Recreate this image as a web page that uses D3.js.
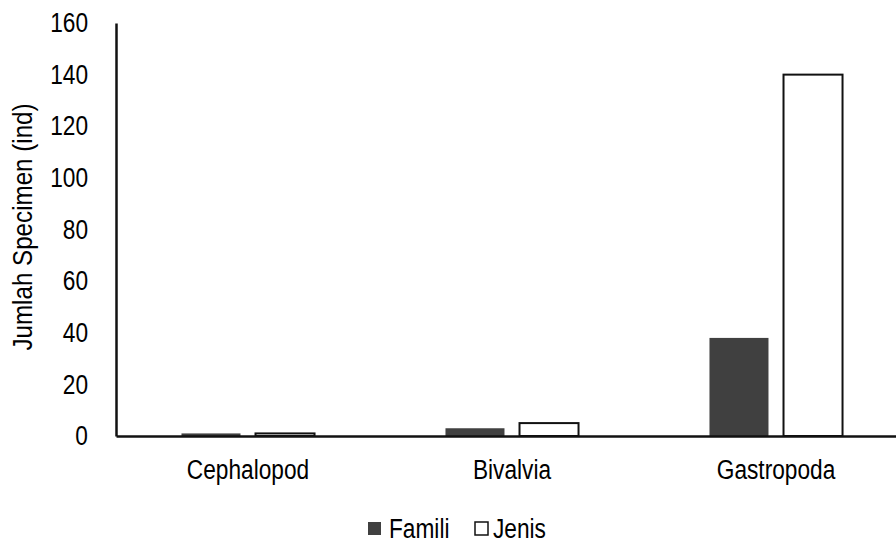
<!DOCTYPE html>
<html>
<head>
<meta charset="utf-8">
<script src="https://cdn.jsdelivr.net/npm/d3@7"></script>
<style>
  html, body { margin: 0; padding: 0; background: #fff; }
  text { font-family: "Liberation Sans Narrow", "Arial Narrow", "Liberation Sans", Arial, sans-serif; fill: #000; }
</style>
</head>
<body>
<svg id="chart" width="896" height="543"></svg>
<script>
// Specimen counts per mollusc class
const categories = ["Cephalopod", "Bivalvia", "Gastropoda"];
const seriesNames = ["Famili", "Jenis"];
const famili = [1, 3, 38];
const jenis = [1, 5, 140];
const yTicks = [0, 20, 40, 60, 80, 100, 120, 140, 160];

const fills = { Famili: "#404040", Jenis: "#ffffff" };
const strokes = { Famili: "none", Jenis: "#111" };

const svg = d3.select("#chart");
const fontSize = 27;

// Condense a text selection horizontally while keeping its anchor
function condense(sel, factor = 0.84) {
  sel.each(function () {
    const w = this.getComputedTextLength();
    d3.select(this).attr("textLength", w * factor).attr("lengthAdjust", "spacingAndGlyphs");
  });
}

const plot = { left: 116, right: 908, top: 23, bottom: 436 };

const y = d3.scaleLinear().domain([0, 160]).range([plot.bottom, plot.top]);
const x0 = d3.scaleBand().domain(categories).range([plot.left, plot.right]).paddingInner(0.496).paddingOuter(0.248);
const x1 = d3.scaleBand().domain(seriesNames).range([0, x0.bandwidth()]).paddingInner(0.203);

const rows = categories.map((c, i) => ({ cat: c, values: [
  { key: "Famili", value: famili[i] },
  { key: "Jenis", value: jenis[i] }
]}));

// Bars
const groups = svg.append("g").selectAll("g").data(rows).join("g")
  .attr("transform", d => `translate(${x0(d.cat)},0)`);
groups.selectAll("rect").data(d => d.values).join("rect")
  .attr("x", d => x1(d.key))
  .attr("y", d => y(d.value))
  .attr("width", x1.bandwidth())
  .attr("height", d => y(0) - y(d.value))
  .attr("fill", d => fills[d.key])
  .attr("stroke", d => strokes[d.key])
  .attr("stroke-width", 2);

// Y axis
const yAxis = d3.axisLeft(y).tickValues(yTicks).tickSize(0).tickPadding(28);
const gy = svg.append("g").attr("transform", `translate(${plot.left},0)`).call(yAxis);
gy.select(".domain").attr("stroke", "#111").attr("stroke-width", 2.5);
gy.selectAll("text").attr("font-size", fontSize).attr("font-family", null).call(condense);

// X axis baseline and category labels
const xAxis = d3.axisBottom(x0).tickSize(0).tickPadding(24);
const gx = svg.append("g").attr("transform", `translate(0,${plot.bottom})`).call(xAxis);
gx.select(".domain").attr("stroke", "#111").attr("stroke-width", 2.5);
gx.selectAll("text").attr("font-size", fontSize).attr("font-family", null).call(condense);

// Y axis title
svg.append("text")
  .attr("transform", `translate(32,227) rotate(-90)`)
  .attr("text-anchor", "middle")
  .attr("font-size", fontSize)
  .text("Jumlah Specimen (ind)")
  .call(condense, 0.895);

// Legend
const legendItems = [
  { key: "Famili", sx: 368, tx: 389 },
  { key: "Jenis", sx: 475, tx: 493 }
];
const lg = svg.append("g");
legendItems.forEach(it => {
  lg.append("rect")
    .attr("x", it.sx).attr("y", 522).attr("width", 13).attr("height", 13)
    .attr("fill", fills[it.key])
    .attr("stroke", it.key === "Jenis" ? "#111" : "none")
    .attr("stroke-width", 1.5);
  lg.append("text")
    .attr("x", it.tx).attr("y", 538)
    .attr("font-size", fontSize)
    .text(it.key)
    .call(condense);
});
</script>
</body>
</html>
